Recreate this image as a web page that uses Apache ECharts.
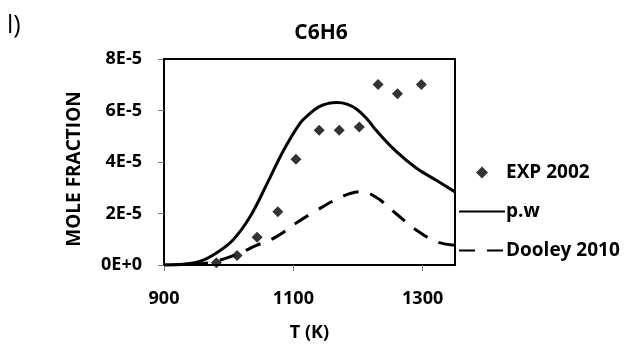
<!DOCTYPE html>
<html>
<head>
<meta charset="utf-8">
<script src="https://cdn.jsdelivr.net/npm/echarts@6/dist/echarts.min.js"></script>
<style>
  html, body { margin: 0; padding: 0; background: #fff; }
  #main { width: 636px; height: 347px; }
</style>
</head>
<body>
<div id="main"></div>
<script>
// C6H6 mole fraction vs temperature
var expT = [981, 1013, 1044, 1076, 1104, 1140, 1171, 1202, 1231, 1261, 1298];
var expY = [0.09e-5, 0.37e-5, 1.08e-5, 2.07e-5, 4.11e-5, 5.23e-5, 5.23e-5, 5.36e-5, 7.01e-5, 6.65e-5, 7.01e-5];

var pwT = [900, 930, 956, 981, 1007, 1033, 1059, 1084, 1110, 1125, 1140, 1155, 1167, 1183, 1198, 1213, 1228, 1259, 1290, 1321, 1350];
var pwY = [0, 0.03e-5, 0.15e-5, 0.47e-5, 0.98e-5, 1.87e-5, 3.14e-5, 4.41e-5, 5.49e-5, 5.87e-5, 6.15e-5, 6.28e-5, 6.31e-5, 6.25e-5, 6.05e-5, 5.70e-5, 5.23e-5, 4.41e-5, 3.77e-5, 3.29e-5, 2.84e-5];

var dooleyT = [900, 956, 981, 1012, 1043, 1074, 1105, 1136, 1167, 1185, 1203, 1228, 1259, 1290, 1321, 1350];
var dooleyY = [0, 0.05e-5, 0.15e-5, 0.41e-5, 0.76e-5, 1.10e-5, 1.64e-5, 2.12e-5, 2.56e-5, 2.75e-5, 2.85e-5, 2.63e-5, 1.99e-5, 1.36e-5, 0.91e-5, 0.76e-5];

var yTickLabels = ['0E+0', '2E-5', '4E-5', '6E-5', '8E-5'];

var xMin = 900, xMax = 1350, yMin = 0, yMax = 8e-5;

function pairs(xs, ys) {
    return xs.map(function (x, i) { return [x, ys[i]]; });
}

var font = 'Open Sans';
var labelStyle = { fontFamily: font, fontWeight: 'bold', fontSize: 18, color: '#000' };
var myChart = echarts.init(document.getElementById('main'));
var option = {
    animation: false,
    title: {
        text: 'C6H6',
        left: 316,
        top: 18,
        textAlign: 'center',
        textStyle: { fontFamily: font, fontWeight: 'bold', fontSize: 21, color: '#000' }
    },
    graphic: [{
        type: 'text',
        left: 7,
        top: 13,
        style: { text: 'l)', fontFamily: font, fontSize: 25, fill: '#000' }
    }, {
        // top edge of the plot frame
        type: 'rect',
        left: 163,
        top: 58,
        z: 10,
        shape: { width: 293, height: 2 },
        style: { fill: '#000' }
    }],
    legend: {
        orient: 'vertical',
        left: 453,
        top: 158,
        itemWidth: 46,
        itemHeight: 12,
        itemGap: 20,
        symbolKeepAspect: true,
        textStyle: { fontFamily: font, fontWeight: 'bold', fontSize: 19, color: '#000', padding: [0, 0, 0, -4] },
        data: [
            { name: 'EXP 2002', icon: 'path://M0,-1L1,0L0,1L-1,0Z' },
            { name: 'p.w', itemStyle: { opacity: 0 } },
            { name: 'Dooley 2010', itemStyle: { opacity: 0 } }
        ]
    },
    grid: {
        left: 164,
        top: 59,
        right: 181,
        bottom: 78
    },
    xAxis: {
        type: 'value',
        min: xMin,
        max: xMax,
        interval: 200,
        name: 'T (K)',
        nameLocation: 'middle',
        nameGap: 59,
        nameTextStyle: labelStyle,
        axisLine: { lineStyle: { color: '#000', width: 2 } },
        axisTick: { show: true, length: 6, lineStyle: { color: '#777' } },
        axisLabel: Object.assign({ showMaxLabel: false, margin: 25, formatter: function (v) { return String(v); } }, labelStyle),
        splitLine: { show: false }
    },
    yAxis: [{
        type: 'value',
        min: yMin,
        max: yMax,
        interval: 2e-5,
        name: 'MOLE FRACTION',
        nameLocation: 'middle',
        nameGap: 80,
        nameTextStyle: { fontFamily: font, fontWeight: 'bold', fontSize: 19, color: '#000', padding: [0, 14, 0, 0] },
        axisLine: { lineStyle: { color: '#000', width: 2 } },
        axisTick: { show: true, length: 6, lineStyle: { color: '#777' } },
        axisLabel: Object.assign({
            margin: 22,
            formatter: function (v) { return yTickLabels[Math.round(v / 2e-5)]; }
        }, labelStyle),
        splitLine: { show: false }
    }, {
        type: 'value',
        position: 'right',
        min: yMin,
        max: yMax,
        axisLine: { show: true, onZero: false, lineStyle: { color: '#000', width: 2 } },
        axisTick: { show: false },
        axisLabel: { show: false },
        splitLine: { show: false }
    }],
    series: [{
        name: 'EXP 2002',
        type: 'scatter',
        symbol: 'diamond',
        symbolSize: 11,
        itemStyle: { color: '#000' },
        data: pairs(expT, expY)
    }, {
        name: 'p.w',
        type: 'line',
        smooth: 0.4,
        symbol: 'none',
        lineStyle: { color: '#000', width: 3 },
        itemStyle: { color: '#000' },
        data: pairs(pwT, pwY)
    }, {
        name: 'Dooley 2010',
        type: 'line',
        smooth: 0.4,
        symbol: 'none',
        lineStyle: { color: '#000', width: 3, type: [16, 12] },
        itemStyle: { color: '#000' },
        data: pairs(dooleyT, dooleyY)
    }]
};
myChart.setOption(option);
</script>
</body>
</html>
